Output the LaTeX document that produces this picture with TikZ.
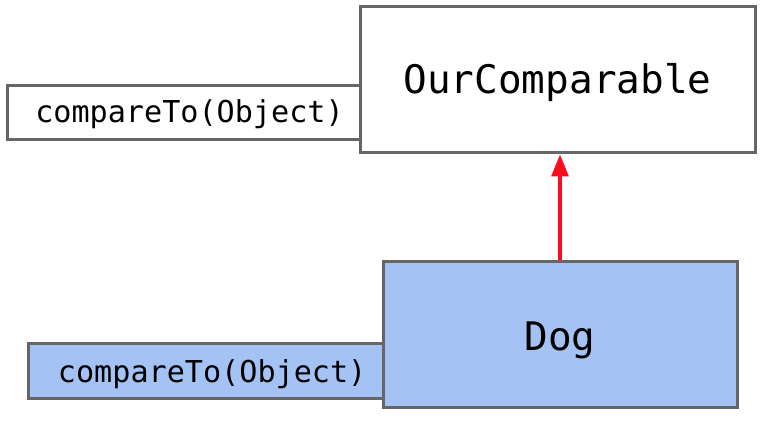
\documentclass[tikz,border=0pt]{standalone}
\usepackage{fontspec}
\setmonofont{DejaVu Sans Mono}
\usetikzlibrary{arrows.meta}
\definecolor{edge}{HTML}{666666}
\definecolor{dogblue}{HTML}{A4C2F4}
\definecolor{arrowred}{HTML}{FF0A1E}
\newcommand{\lowered}[2]{\raisebox{-#1}{#2}}
\tikzset{
  box/.style={draw=edge, line width=2.25pt, rectangle, inner sep=0pt, text height=0pt, text depth=0pt, font=\ttfamily},
  bigtext/.style={font=\ttfamily\fontsize{29.5}{32}\selectfont},
  smalltext/.style={font=\ttfamily\fontsize{22.6}{26}\selectfont},
  inherit/.style={draw=arrowred, line width=2.4pt, -{Triangle[width=12.75pt,length=16.5pt]}}
}
\begin{document}
\begin{tikzpicture}[x=0.75pt,y=-0.75pt]
\useasboundingbox (0,0) rectangle (765,423);
\node[box, fill=white, minimum width=264.75pt, minimum height=40.5pt, smalltext] (m1) at (183.5,113) {\hspace*{9pt}\lowered{7.5pt}{compareTo(Object)}};
\node[box, fill=white, minimum width=296.25pt, minimum height=109.5pt, bigtext] (oc) at (557.5,80) {\lowered{10.5pt}{OurComparable}};
\node[box, fill=dogblue, minimum width=266.25pt, minimum height=41.25pt, smalltext] (m2) at (205.5,371.5) {\hspace*{10pt}\lowered{8.6pt}{compareTo(Object)}};
\node[box, fill=dogblue, minimum width=265.5pt, minimum height=109.5pt, bigtext] (dog) at (560,335) {\lowered{12pt}{Dog}};
\draw[inherit] (dog.north) -- (dog.north |- oc.south);
\end{tikzpicture}
\end{document}
